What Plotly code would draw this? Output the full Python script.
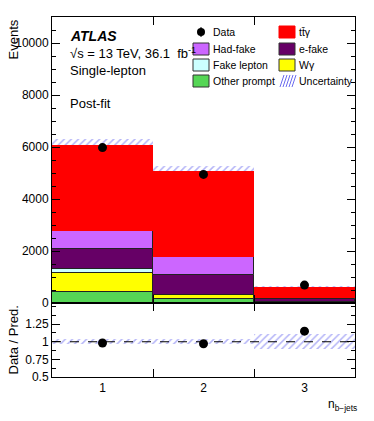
import plotly.graph_objects as go
from plotly.subplots import make_subplots

# bins (n b-jets)
bins = [1, 2, 3]
bin_labels = ["1", "2", "3"]

# post-fit yields per process (stack order bottom -> top)
other_prompt = [410, 160, 25]
w_gamma = [725, 145, 20]
fake_lepton = [160, 20, 5]
e_fake = [790, 735, 110]
had_fake = [690, 710, 45]
ttgamma = [3305, 3316, 395]

data = [5977, 4945, 690]
uncert = [210, 190, 65]

main_ticks = [0, 2000, 4000, 6000, 8000, 10000]
ratio_ticks = [0.5, 0.75, 1, 1.25]

stack = [
    ("Other prompt", other_prompt, "#55d655"),
    ("Wγ", w_gamma, "#ffff00"),
    ("Fake lepton", fake_lepton, "#ccffff"),
    ("e-fake", e_fake, "#660066"),
    ("Had-fake", had_fake, "#cc66ff"),
    ("tt̄γ", ttgamma, "#ff0000"),
]

total = [sum(s[1][i] for s in stack) for i in range(len(bins))]
ratio = [d / t for d, t in zip(data, total)]
rel_unc = [u / t for u, t in zip(uncert, total)]

hatch_col = "#6a6af0"
font = "Liberation Sans, Arial, sans-serif"

fig = make_subplots(rows=2, cols=1, shared_xaxes=True, vertical_spacing=0,
                    row_heights=[286, 74])

# uncertainty band in main panel (drawn first, stack covers its lower half)
fig.add_trace(go.Bar(x=bins, base=[t - u for t, u in zip(total, uncert)],
                     y=[2 * u for u in uncert], width=1,
                     marker=dict(color="rgba(0,0,0,0)", line_width=0,
                                 pattern=dict(shape="/", fgcolor=hatch_col, size=5,
                                              solidity=0.3, fillmode="overlay")),
                     showlegend=False), row=1, col=1)

base = [0] * len(bins)
for name, vals, col in stack:
    lw = 0 if name == "tt̄γ" else 1
    fig.add_trace(go.Bar(x=bins, y=vals, base=list(base), width=1, name=name,
                         marker=dict(color=col, line=dict(color="#222222", width=lw)),
                         showlegend=False), row=1, col=1)
    base = [b + v for b, v in zip(base, vals)]

fig.add_trace(go.Scatter(x=bins, y=data, mode="markers",
                         marker=dict(color="black", size=9), showlegend=False),
              row=1, col=1)

# ratio panel
fig.add_trace(go.Bar(x=bins, base=[1 - r for r in rel_unc], y=[2 * r for r in rel_unc],
                     width=1,
                     marker=dict(color="rgba(0,0,0,0)", line_width=0,
                                 pattern=dict(shape="/", fgcolor=hatch_col, size=5,
                                              solidity=0.3, fillmode="overlay")),
                     showlegend=False), row=2, col=1)
fig.add_shape(type="line", xref="x2", yref="y2", x0=0.5, x1=3.5, y0=1, y1=1,
              line=dict(color="black", width=1, dash="dash"))
fig.add_trace(go.Scatter(x=bins, y=ratio, mode="markers",
                         marker=dict(color="black", size=9), showlegend=False),
              row=2, col=1)

axis_common = dict(showline=True, linecolor="black", linewidth=1, mirror="allticks",
                   ticks="inside", tickcolor="black", showgrid=False, zeroline=False,
                   automargin=False,
                   tickfont=dict(family=font, size=12, color="black"))

fig.update_xaxes(range=[0.5, 3.5], **axis_common)
fig.update_xaxes(tickvals=[1.5, 2.5], ticklen=8, showticklabels=False, row=1, col=1)
fig.update_xaxes(tickvals=bins, ticktext=bin_labels, ticklen=0,
                 minor=dict(tickvals=[1.5, 2.5], ticklen=8, ticks="inside", tickcolor="black"),
                 row=2, col=1)

fig.update_yaxes(**axis_common)
fig.update_yaxes(range=[0, 11000], tickvals=main_ticks, ticktext=[str(t) for t in main_ticks],
                 ticklen=8,
                 minor=dict(dtick=500, tick0=0, ticklen=4, ticks="inside", tickcolor="black"),
                 row=1, col=1)
fig.update_yaxes(range=[0.5, 1.55], tickvals=ratio_ticks,
                 ticktext=["0.5", "0.75", "1", "1.25"], ticklen=8,
                 minor=dict(dtick=0.125, tick0=0.5, ticklen=4, ticks="inside", tickcolor="black"),
                 row=2, col=1)

ann = []


def txt(x, y, s, size=13, **kw):
    ann.append(dict(x=x, y=y, xref="paper", yref="paper", text=s, showarrow=False,
                    xanchor=kw.pop("xanchor", "left"), yanchor=kw.pop("yanchor", "middle"),
                    font=dict(family=font, size=size, color="black"), **kw))


# pixel -> paper coords (plot area spans x 52..355, y 17..377)
def px(x):
    return (x - 52) / 303


def py(y):
    return (377 - y) / 360


txt(px(68), py(36), "<b><i>ATLAS</i></b>", 14)
txt(px(68), py(53), "√s = 13 TeV, 36.1  fb<sup>-1</sup>", 13)
txt(px(68), py(70), "Single-lepton", 13)
txt(px(68), py(103), "Post-fit", 13)
txt(px(3), py(18), "Events", 13, textangle=-90, xanchor="left", yanchor="top")
txt(px(3), py(340), "Data / Pred.", 13, textangle=-90, xanchor="left", yanchor="middle")
txt(px(359), py(405), "n<sub>b−jets</sub>", 12, xanchor="right")

# manual two-column legend
legend_rows = [32, 49, 65, 81]
col1 = [("Data", None), ("Had-fake", "#cc66ff"), ("Fake lepton", "#ccffff"),
        ("Other prompt", "#55d655")]
col2 = [("tt̄γ", "#ff0000"), ("e-fake", "#660066"), ("Wγ", "#ffff00"),
        ("Uncertainty", "hatch")]
shapes = []
for colx, entries in ((193, col1), (279, col2)):
    for yrow, (label, colr) in zip(legend_rows, entries):
        if colr is None:
            shapes.append(dict(type="circle", xref="paper", yref="paper",
                               x0=px(colx + 4), x1=px(colx + 12),
                               y0=py(yrow + 4), y1=py(yrow - 4),
                               fillcolor="black", line_width=0))
            shapes.append(dict(type="line", xref="paper", yref="paper",
                               x0=px(colx + 8), x1=px(colx + 8),
                               y0=py(yrow + 5), y1=py(yrow - 5),
                               line=dict(color="black", width=1)))
        elif colr == "hatch":
            for k in range(5):
                shapes.append(dict(type="line", xref="paper", yref="paper",
                                   x0=px(colx + 1 + 3 * k), x1=px(colx + 5 + 3 * k),
                                   y0=py(yrow + 6), y1=py(yrow - 6),
                                   line=dict(color=hatch_col, width=1)))
        else:
            lc = colr if label == "tt̄γ" else "#333333"
            shapes.append(dict(type="rect", xref="paper", yref="paper",
                               x0=px(colx), x1=px(colx + 16),
                               y0=py(yrow + 6), y1=py(yrow - 6),
                               fillcolor=colr, line=dict(color=lc, width=1)))
        txt(px(colx + 18), py(yrow), label, 10.5)

fig.update_layout(width=374, height=421, margin=dict(l=52, r=19, t=17, b=44),
                  barmode="overlay", bargap=0, plot_bgcolor="white",
                  paper_bgcolor="white", annotations=ann,
                  shapes=list(fig.layout.shapes) + shapes)

# drop the default page margin so the figure sits at the window's corner
fig.write_html("out.html", config={"displayModeBar": False},
               post_script="document.body.style.margin='0';")
